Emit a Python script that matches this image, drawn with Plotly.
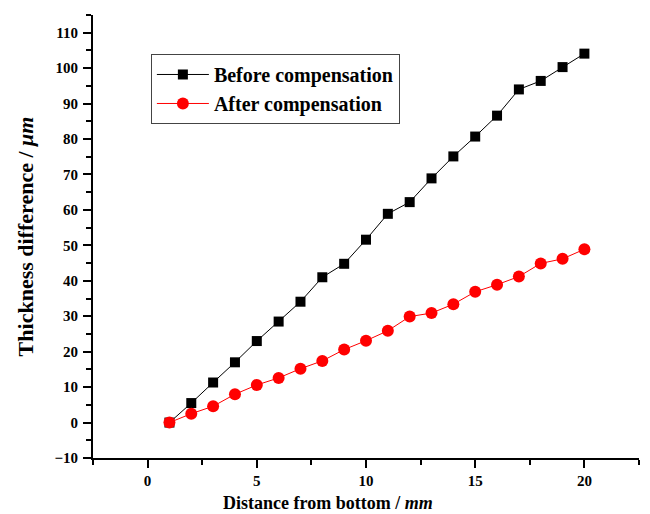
import plotly.graph_objects as go

distance = list(range(1, 21))
before = [0, 5.5, 11.3, 17.0, 23.0, 28.5, 34.1, 41.0, 44.8, 51.6,
          58.9, 62.2, 68.9, 75.1, 80.7, 86.6, 94.0, 96.4, 100.3, 104.1]
after = [0, 2.5, 4.6, 8.0, 10.6, 12.6, 15.2, 17.4, 20.6, 23.1,
         25.9, 29.9, 30.9, 33.4, 36.9, 38.9, 41.2, 44.9, 46.2, 48.9]

x_ticks = [0, 5, 10, 15, 20]
y_ticks = list(range(-10, 111, 10))

x_title = "Distance from bottom / <i>mm</i>"
y_title = "Thickness difference / <i>μm</i>"

FONT = "Liberation Serif"

fig = go.Figure()
fig.add_trace(go.Scatter(
    x=distance, y=before, mode="lines+markers", name="Before compensation",
    line=dict(color="black", width=1),
    marker=dict(symbol="square", size=10, color="black"),
))
fig.add_trace(go.Scatter(
    x=distance, y=after, mode="lines+markers", name="After compensation",
    line=dict(color="red", width=1),
    marker=dict(symbol="circle", size=12, color="red"),
))

axis_common = dict(
    showgrid=False, zeroline=False, showline=True, linecolor="black", linewidth=2,
    ticks="outside", tickwidth=2, ticklen=8, tickcolor="black",
    tickfont=dict(family=FONT, size=15, color="black", weight="bold"),
    mirror=False, automargin=False,
)

fig.update_xaxes(
    range=[-2.5, 22.5], tickvals=x_ticks, ticklabelstandoff=0,
    minor=dict(dtick=2.5, tick0=0, ticks="outside", ticklen=5, tickwidth=2, tickcolor="black"),
    **axis_common,
)
fig.update_yaxes(
    range=[-10, 115], tickvals=y_ticks, ticklabelstandoff=2,
    minor=dict(dtick=5, tick0=0, ticks="outside", ticklen=5, tickwidth=2, tickcolor="black"),
    title=dict(text=y_title, font=dict(family=FONT, size=22, color="black", weight="bold"), standoff=15),
    **axis_common,
)

fig.add_annotation(
    text=x_title, xref="paper", yref="paper", x=0.43, y=-0.102,
    xanchor="center", yanchor="middle", showarrow=False,
    font=dict(family=FONT, size=18, color="black", weight="bold"),
)

fig.update_layout(
    width=650, height=514,
    margin=dict(l=93, r=11, t=15, b=56),
    plot_bgcolor="white", paper_bgcolor="white",
    legend=dict(
        x=0.106, y=0.912, xanchor="left", yanchor="top",
        bordercolor="#444", borderwidth=1, bgcolor="white",
        font=dict(family=FONT, size=20, color="black", weight="bold"),
        tracegroupgap=0, itemwidth=52,
    ),
)

fig.write_html("out.html")
